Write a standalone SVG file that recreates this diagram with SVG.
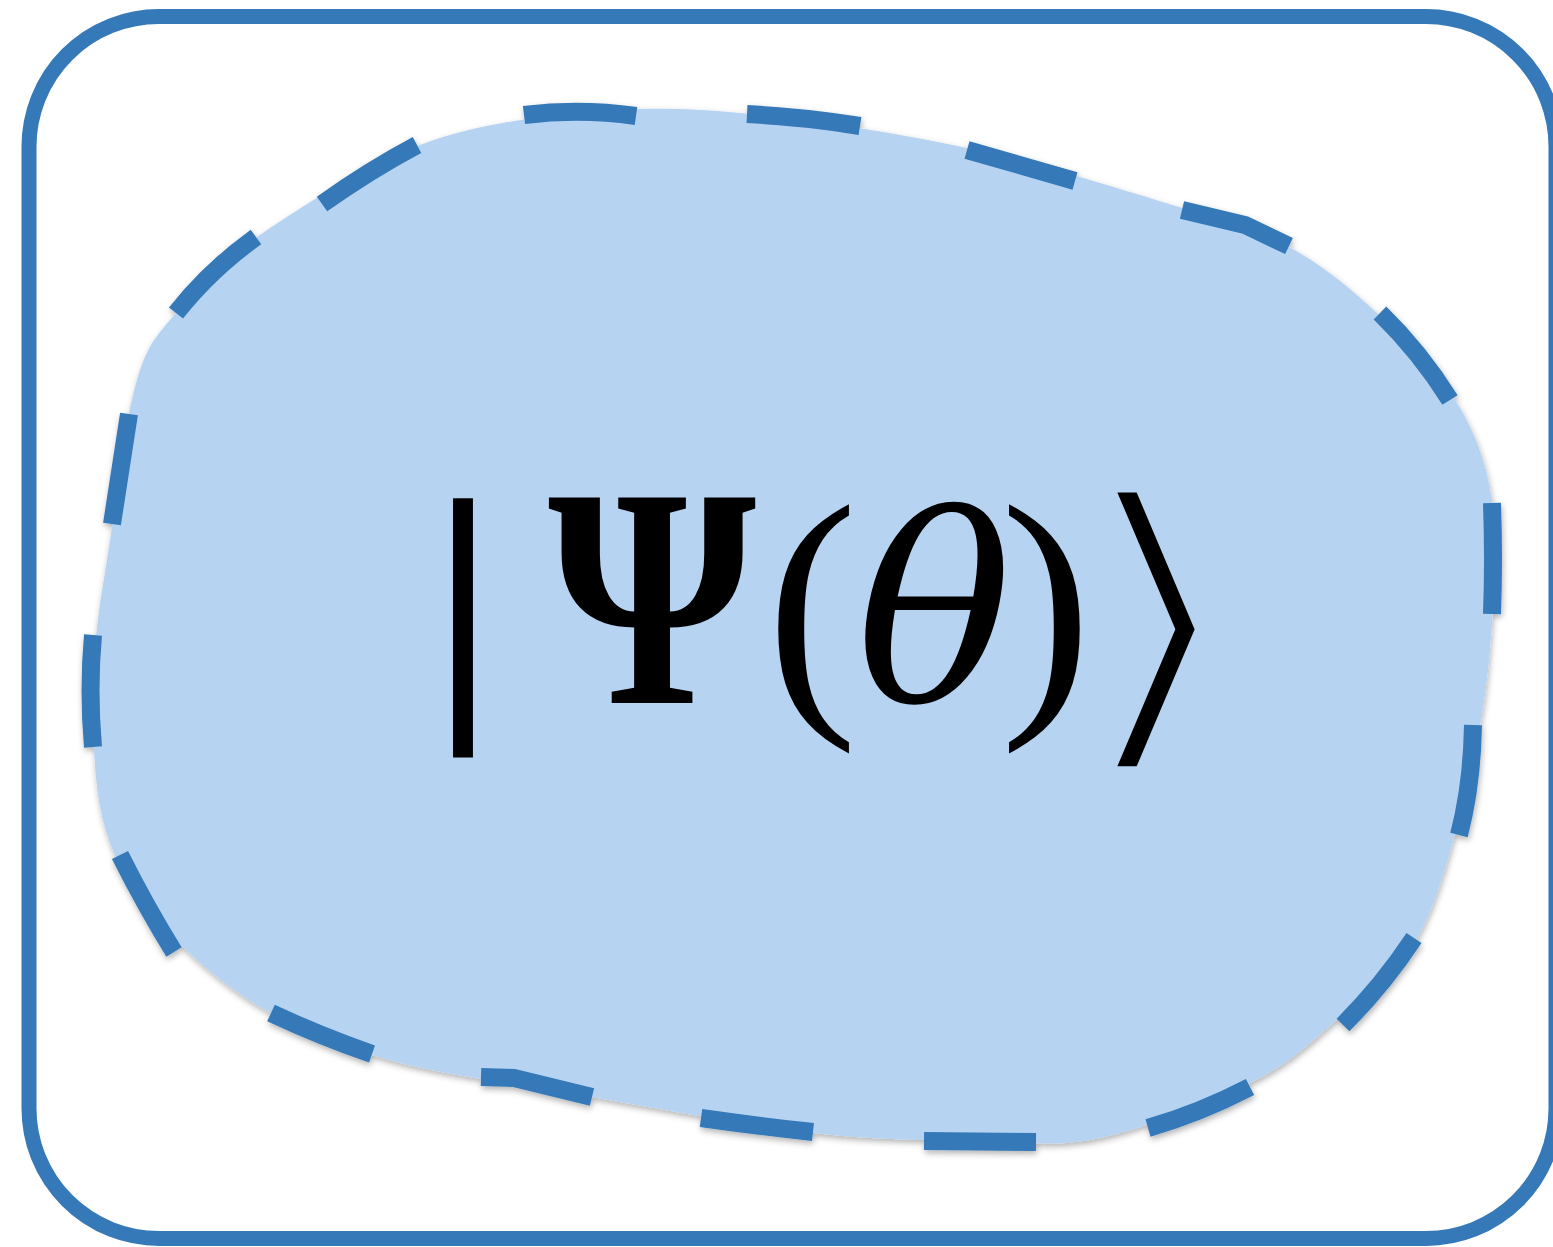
<svg xmlns="http://www.w3.org/2000/svg" width="1553" height="1247" viewBox="0 0 1553 1247">
<defs>
<style>
.frame{fill:none;stroke:#3579b8;stroke-width:15}
.blob{fill:#b7d3f2}
.dash{fill:none;stroke:#3579b8;stroke-width:18;stroke-linecap:butt;stroke-linejoin:miter}
.math{font-family:"Liberation Serif","Times New Roman",serif;fill:#000}
</style>
<filter id="sh" x="-5%" y="-5%" width="110%" height="110%">
<feDropShadow dx="1" dy="3" stdDeviation="3" flood-color="#000" flood-opacity="0.3"/>
</filter>
</defs>
<rect id="frame" class="frame" x="29" y="16.5" width="1527" height="1222" rx="130" ry="130"/>
<g id="state" filter="url(#sh)">
<path class="blob" d="M93,690 C92.7,635.7 104.7,578.7 112,527 C119.3,475.3 126.3,415.7 137,380 C147.7,344.3 155.5,337.2 176,313 C196.5,288.8 219.3,263 260,235 C300.7,207 366.7,165.3 420,145 C473.3,124.7 526.7,118.3 580,113 C633.3,107.7 675.5,107.2 740,113 C804.5,118.8 893.3,132.2 967,148 C1040.7,163.8 1128.3,191.5 1182,208 C1235.7,224.5 1256.5,229.5 1289,247 C1321.5,264.5 1349,287 1377,313 C1405,339 1437.8,371.8 1457,403 C1476.2,434.2 1486.2,463.3 1492,500 C1497.8,536.7 1495.2,579.7 1492,623 C1488.8,666.3 1485,708.3 1473,760 C1461,811.7 1443.3,889.2 1420,933 C1396.7,976.8 1361.3,998 1333,1023 C1304.7,1048 1288.8,1063.8 1250,1083 C1211.2,1102.2 1145,1128.3 1100,1138 C1055,1147.7 1027.7,1141.8 980,1141 C932.3,1140.2 878.7,1140.3 814,1133 C749.3,1125.7 665.7,1110 592,1097 C518.3,1084 433.8,1074.5 372,1055 C310.2,1035.5 264,1013.7 221,980 C178,946.3 135.3,901.3 114,853 C92.7,804.7 93.3,744.3 93,690 Z"/>
<path class="dash" d="M129,414 L112,524 M176,313 Q210,270 256,237 M322,204 Q370,170 417,145 M524,115 Q580,108 636,116 M747,114 Q805,117 860,126 M967,150 L1075,181 M1182,210 L1245,225 L1289,246 M1380,313 Q1420,352 1450,400 M1492,503 Q1494,560 1492,614 M1473,725 Q1472,785 1459,835 M1414,938 Q1383,985 1343,1025 M1250,1087 Q1200,1113 1148,1128 M1036,1142 L924,1141 M813,1132 Q757,1126 701,1118 M592,1097 L514,1078 L481,1077 M372,1054 Q320,1036 271,1013 M174,952 Q145,905 120,855 M93,747 Q88,690 93,635"/>
</g>
<g id="label">
<text class="math" x="463" y="696" font-size="285" font-weight="bold" text-anchor="middle">|</text>
<text class="math" x="0" y="0" font-size="314" font-weight="bold" transform="translate(548,703) scale(0.85,1)">Ψ</text>
<text class="math" x="812" y="695" font-size="275" text-anchor="middle">(</text>
<text x="856" y="702" font-size="260" font-style="italic" font-family="DejaVu Serif,serif">θ</text>
<text class="math" x="1046" y="695" font-size="275" text-anchor="middle">)</text>
<text x="0" y="0" font-size="321" font-family="DejaVu Sans,sans-serif" fill="#000" stroke="#b7d3f2" stroke-width="12" stroke-linejoin="miter" transform="translate(1071,730) scale(1.37,1)">⟩</text>
</g>
</svg>
